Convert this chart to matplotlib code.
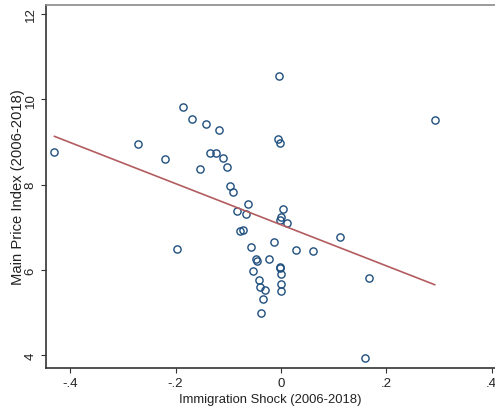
#!/usr/bin/env python3
"""Immigration shock vs. main price index scatter with linear fit."""

import matplotlib
matplotlib.use("Agg")
import matplotlib.pyplot as plt
import numpy as np

# values
shock = [
    -0.430, -0.271, -0.221, -0.186, -0.168, -0.143, -0.117, -0.154,
    -0.134, -0.124, -0.110, -0.103, -0.097, -0.091, -0.062, -0.006,
    -0.002, -0.084, -0.066, 0.004, -0.001, 0.001, 0.012, -0.077,
    -0.072, -0.013, -0.057, 0.029, 0.060, -0.048, -0.045, -0.022,
    -0.053, -0.001, -0.001, 0.000, -0.042, -0.040, -0.030, 0.000,
    0.000, -0.034, -0.037, -0.198, 0.112, 0.168, 0.160, -0.003, 0.292,
]
price = [
    8.77, 8.95, 8.59, 9.81, 9.54, 9.42, 9.28, 8.36,
    8.73, 8.73, 8.62, 8.42, 7.96, 7.83, 7.55, 9.06,
    8.97, 7.39, 7.30, 7.43, 7.18, 7.23, 7.10, 6.91,
    6.94, 6.66, 6.53, 6.47, 6.44, 6.26, 6.22, 6.26,
    5.98, 6.08, 6.05, 5.90, 5.76, 5.60, 5.53, 5.67,
    5.51, 5.33, 5.00, 6.50, 6.77, 5.82, 3.93, 10.54, 9.51,
]

# linear fit as drawn in the reference (full sample)
fit_intercept = 7.06
fit_slope = -4.81

xticks = [-0.4, -0.2, 0.0, 0.2, 0.4]
xtick_labels = ["-.4", "-.2", "0", ".2", ".4"]
yticks = [4, 6, 8, 10, 12]

plt.rcParams["font.family"] = ["Liberation Sans", "DejaVu Sans"]

x = np.array(shock)
y = np.array(price)
fit_x = np.array([x.min(), x.max()])
fit_y = fit_intercept + fit_slope * fit_x

fig = plt.figure(figsize=(4.95, 4.10), dpi=100)
ax = fig.add_axes([0.093, 0.101, 0.907, 0.884])

ax.plot(x, y, "o", markerfacecolor="none", markeredgecolor="#1f4f7f",
        markersize=5.2, markeredgewidth=1.0, linestyle="none")
ax.plot(fit_x, fit_y, color="#b35c5f", linewidth=1.2)

ax.set_xlim(-0.446, 0.4065)
ax.set_ylim(3.715, 12.2)
ax.set_xticks(xticks)
ax.set_xticklabels(xtick_labels)
ax.set_yticks(yticks)
ax.set_yticklabels([str(v) for v in yticks], rotation=90, va="center")

ax.tick_params(axis="both", labelsize=9.5, length=3.8, width=0.8,
               color="#333333", labelcolor="#222222", pad=3)

for side in ("left", "bottom"):
    ax.spines[side].set_color("#333333")
    ax.spines[side].set_linewidth(1.2)
ax.spines["top"].set_color("#8a8a8a")
ax.spines["top"].set_linewidth(1.2)
ax.spines["right"].set_visible(False)

ax.set_xlabel("Immigration Shock (2006-2018)", fontsize=9.4, color="#222222", labelpad=3)
ax.set_ylabel("Main Price Index (2006-2018)", fontsize=10.6, color="#222222", labelpad=0)

fig.savefig("out.png", dpi=100)
